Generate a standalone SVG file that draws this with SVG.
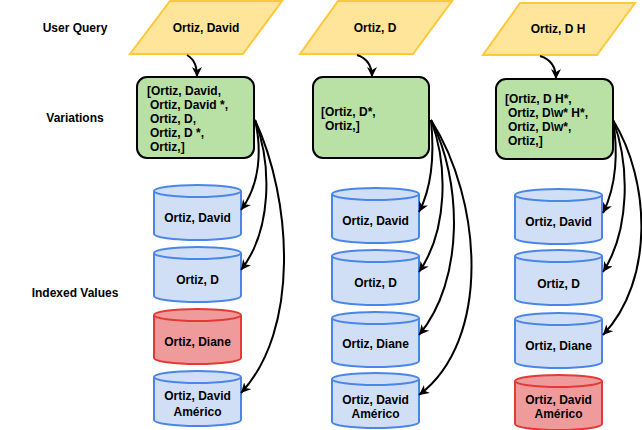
<svg xmlns="http://www.w3.org/2000/svg" xmlns:xlink="http://www.w3.org/1999/xlink" width="642" height="430" viewBox="0 0 642 430">
<style>
text{font-family:"Liberation Sans",Arial,sans-serif;font-weight:bold;font-size:12px;fill:#000}
.c{text-anchor:middle}
.q{fill:#ffe599;stroke:#fbc93a;stroke-width:2}
.v{fill:#b9e0a5;stroke:#000;stroke-width:2}
.b{fill:#d0dff6;stroke:#4a86e8;stroke-width:2}
.r{fill:#f09b9b;stroke:#e53935;stroke-width:2}
.e{fill:none;stroke:#000;stroke-width:2}
</style>
<defs>
<marker id="ah" markerWidth="12" markerHeight="10" refX="10" refY="5" orient="auto" markerUnits="userSpaceOnUse">
<path d="M0,0 L10,5 L0,10 L3,5 Z" fill="#000"/>
</marker>
<g id="cyl">
<path d="M0,6 A43.5,6 0 0 1 87,6 L87,49 A43.5,6 0 0 1 0,49 Z"/>
<path d="M0,6 A43.5,6 0 0 0 87,6" fill="none"/>
</g>
</defs>
<g id="labels">
<text class="c" x="75" y="32">User Query</text>
<text class="c" x="75" y="122">Variations</text>
<text class="c" x="75" y="297">Indexed Values</text>
</g>
<g id="q1"><path class="q" d="M170,1 L282,1 L243,54 L130,54 Z"/><text class="c" x="206" y="32">Ortiz, David</text></g>
<g id="q2"><path class="q" d="M338,1 L452,1 L413,54 L300,54 Z"/><text class="c" x="375" y="32">Ortiz, D</text></g>
<g id="q3"><path class="q" d="M520,3 L635,3 L597,55 L483,55 Z"/><text class="c" x="558" y="33">Ortiz, D H</text></g>
<g id="v1"><rect class="v" x="137" y="77" width="117" height="81" rx="10"/>
<text x="147" y="94.5">[Ortiz, David,</text>
<text x="150" y="108.5">Ortiz, David *,</text>
<text x="150" y="122.5">Ortiz, D,</text>
<text x="150" y="136.5">Ortiz, D *,</text>
<text x="150" y="150.5">Ortiz,]</text></g>
<g id="v2"><rect class="v" x="313" y="77" width="116" height="81" rx="10"/>
<text x="321" y="115.5">[Ortiz, D*,</text>
<text x="325" y="129.5">Ortiz,]</text></g>
<g id="v3"><rect class="v" x="496" y="79" width="117" height="80" rx="10"/>
<text x="505" y="102.5">[Ortiz, D H*,</text>
<text x="508" y="116.5">Ortiz, D\w* H*,</text>
<text x="508" y="130.5">Ortiz, D\w*,</text>
<text x="508" y="144.5">Ortiz,]</text></g>
<g id="c1a"><use xlink:href="#cyl" class="b" transform="translate(154,185)"/><text class="c" x="197.5" y="221.5">Ortiz, David</text></g>
<g id="c1b"><use xlink:href="#cyl" class="b" transform="translate(154,247)"/><text class="c" x="197.5" y="283.5">Ortiz, D</text></g>
<g id="c1c"><use xlink:href="#cyl" class="r" transform="translate(154,309)"/><text class="c" x="197.5" y="345.5">Ortiz, Diane</text></g>
<g id="c1d"><use xlink:href="#cyl" class="b" transform="translate(154,371)"/><text class="c" x="197.5" y="399.5">Ortiz, David</text><text class="c" x="197.5" y="415.5">Américo</text></g>
<g id="c2a"><use xlink:href="#cyl" class="b" transform="translate(332,188)"/><text class="c" x="375.5" y="224.5">Ortiz, David</text></g>
<g id="c2b"><use xlink:href="#cyl" class="b" transform="translate(332,250)"/><text class="c" x="375.5" y="286.5">Ortiz, D</text></g>
<g id="c2c"><use xlink:href="#cyl" class="b" transform="translate(332,312)"/><text class="c" x="375.5" y="347.5">Ortiz, Diane</text></g>
<g id="c2d"><use xlink:href="#cyl" class="b" transform="translate(332,373)"/><text class="c" x="375.5" y="403.5">Ortiz, David</text><text class="c" x="375.5" y="417.5">Américo</text></g>
<g id="c3a"><use xlink:href="#cyl" class="b" transform="translate(515,189)"/><text class="c" x="558.5" y="225.5">Ortiz, David</text></g>
<g id="c3b"><use xlink:href="#cyl" class="b" transform="translate(515,250)"/><text class="c" x="558.5" y="287.5">Ortiz, D</text></g>
<g id="c3c"><use xlink:href="#cyl" class="b" transform="translate(515,313)"/><text class="c" x="558.5" y="349.5">Ortiz, Diane</text></g>
<g id="c3d"><use xlink:href="#cyl" class="r" transform="translate(515,375)"/><text class="c" x="558.5" y="403.5">Ortiz, David</text><text class="c" x="558.5" y="417.5">Américo</text></g>
<g id="connectors">
<path class="e" marker-end="url(#ah)" d="M187,55 C195,60 197,67 197,77"/>
<path class="e" marker-end="url(#ah)" d="M357,55 C366,58 372,65 372,77"/>
<path class="e" marker-end="url(#ah)" d="M540,56 C550,59 556,67 556,79"/>
<path class="e" marker-end="url(#ah)" d="M255,120 C262,150 260,185 241,210"/>
<path class="e" marker-end="url(#ah)" d="M255,120 C272,165 272,230 241,270"/>
<path class="e" marker-end="url(#ah)" d="M255,120 C292,200 300,330 241,393"/>
<path class="e" marker-end="url(#ah)" d="M431,120 C434,150 433,185 419,212"/>
<path class="e" marker-end="url(#ah)" d="M431,120 C448,165 448,230 419,272"/>
<path class="e" marker-end="url(#ah)" d="M431,120 C462,180 465,280 419,335"/>
<path class="e" marker-end="url(#ah)" d="M431,120 C482,200 492,340 419,395"/>
<path class="e" marker-end="url(#ah)" d="M613,120 C618,150 617,185 603,213"/>
<path class="e" marker-end="url(#ah)" d="M613,120 C630,165 630,230 603,272"/>
<path class="e" marker-end="url(#ah)" d="M613,120 C650,180 655,280 603,335"/>
</g>
</svg>
